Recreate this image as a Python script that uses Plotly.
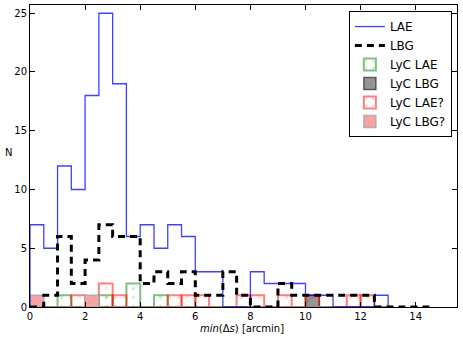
import numpy as np
import plotly.graph_objects as go

bin_width = 0.5
# counts per 0.5-arcmin bin, starting at 0
lae_counts = [7, 5, 12, 10, 18, 25, 19, 6, 7, 5, 7, 6, 3, 3, 0, 0, 3, 2, 2, 2, 1, 1, 0, 0, 0, 1]
lbg_counts = [0, 1, 6, 2, 4, 7, 6, 6, 2, 3, 2, 3, 1, 1, 3, 1, 0, 0, 2, 1, 1, 1, 1, 1, 1, 0, 0, 0, 0]
lyc_lae_counts = [0, 0, 1, 0, 0, 1, 0, 2, 0, 1, 0, 0, 0, 0, 0, 0, 0, 0, 0, 0, 0, 0, 0, 0, 0, 0]
lyc_lbg_counts = [0, 0, 0, 0, 0, 0, 0, 0, 0, 0, 0, 0, 0, 0, 0, 0, 0, 0, 0, 0, 1, 0, 0, 0, 0, 0]
lyc_lae_q_counts = [0, 0, 0, 1, 0, 2, 1, 0, 0, 0, 1, 1, 1, 0, 0, 1, 1, 0, 1, 0, 1, 0, 0, 1, 1, 0]
lyc_lbg_q_counts = [1, 0, 0, 0, 1, 0, 0, 0, 0, 0, 0, 0, 0, 0, 0, 0, 0, 0, 0, 0, 0, 0, 0, 0, 0, 0]

x_ticks = [0, 2, 4, 6, 8, 10, 12, 14]
y_ticks = [0, 5, 10, 15, 20, 25]

FONT = "DejaVu Sans"


def step_xy(counts):
    edges = np.arange(len(counts) + 1) * bin_width
    xs = [edges[0]] + list(edges[:-1]) + [edges[-1]]
    ys = [0] + list(counts) + [0]
    return xs, ys


def centers(counts):
    return (np.arange(len(counts)) + 0.5) * bin_width


fig = go.Figure()

# LyC bars (patterned)
fig.add_trace(go.Bar(
    x=centers(lyc_lae_counts), y=lyc_lae_counts, width=bin_width, name="LyC LAE",
    marker=dict(color="rgba(0,0,0,0)",
                line=dict(color="rgba(0,128,0,0.5)", width=2),
                pattern=dict(shape=".", fgcolor="rgba(0,128,0,0.3)", bgcolor="rgba(0,0,0,0)",
                             size=9, solidity=0.12)),
))
fig.add_trace(go.Bar(
    x=centers(lyc_lbg_counts), y=lyc_lbg_counts, width=bin_width, name="LyC LBG",
    marker=dict(color="rgba(0,0,0,0)",
                line=dict(color="rgba(60,60,60,0.8)", width=1.5),
                pattern=dict(shape="/", fgcolor="rgba(90,90,90,0.7)", bgcolor="rgba(150,150,150,1)",
                             size=14, solidity=0.08)),
))
fig.add_trace(go.Bar(
    x=centers(lyc_lae_q_counts), y=lyc_lae_q_counts, width=bin_width, name="LyC LAE?",
    marker=dict(color="rgba(0,0,0,0)",
                line=dict(color="rgba(255,0,0,0.5)", width=2),
                pattern=dict(shape=".", fgcolor="rgba(255,0,0,0.25)", bgcolor="rgba(0,0,0,0)",
                             size=9, solidity=0.12)),
))
fig.add_trace(go.Bar(
    x=centers(lyc_lbg_q_counts), y=lyc_lbg_q_counts, width=bin_width, name="LyC LBG?",
    marker=dict(color="rgba(0,0,0,0)",
                line=dict(color="rgba(170,170,170,0.9)", width=1.5),
                pattern=dict(shape="/", fgcolor="rgba(240,130,130,0.6)", bgcolor="rgba(245,165,165,1)",
                             size=14, solidity=0.08)),
))

# step histograms
lx, ly = step_xy(lae_counts)
fig.add_trace(go.Scatter(x=lx, y=ly, mode="lines", line_shape="hv", name="LAE",
                         line=dict(color="rgba(0,0,255,0.75)", width=1.3)))
bx, by = step_xy(lbg_counts)
fig.add_trace(go.Scatter(x=bx, y=by, mode="lines", line_shape="hv", name="LBG",
                         line=dict(color="black", width=3, dash="7px,5px")))

fig.update_layout(
    width=463, height=341,
    margin=dict(l=30, r=6, t=5, b=34, autoexpand=False),
    paper_bgcolor="white", plot_bgcolor="white",
    barmode="overlay",
    font=dict(family=FONT, size=10, color="black"),
    showlegend=True,
    legend=dict(
        x=0.988, y=0.98, xanchor="right", yanchor="top",
        bordercolor="black", borderwidth=1, bgcolor="white",
        font=dict(family=FONT, size=12, color="black"),
        traceorder="normal",
        itemwidth=30, tracegroupgap=0,
    ),
)
fig.update_xaxes(
    range=[0, 15.5], tickvals=x_ticks, ticktext=[str(v) for v in x_ticks],
    ticks="inside", ticklen=5, tickcolor="black", showline=True, linecolor="black", linewidth=1,
    mirror="ticks", showgrid=False, zeroline=False, automargin=False,
    tickfont=dict(family=FONT, size=10, color="black"),
)
fig.update_yaxes(
    range=[0, 25.7], tickvals=y_ticks, ticktext=[str(v) for v in y_ticks],
    ticks="inside", ticklen=5, tickcolor="black", showline=True, linecolor="black", linewidth=1,
    mirror="ticks", showgrid=False, zeroline=False, automargin=False,
    tickfont=dict(family=FONT, size=10, color="black"),
)
fig.add_annotation(text="<i>min</i>(Δ<i>s</i>) [arcmin]", xref="paper", yref="paper",
                   x=0.497, y=-0.072, xanchor="center", yanchor="middle", showarrow=False,
                   font=dict(family=FONT, size=10, color="black"))
fig.add_annotation(text="N", xref="paper", yref="paper", x=-0.05, y=0.51,
                   xanchor="center", yanchor="middle", showarrow=False,
                   font=dict(family=FONT, size=10, color="black"))

# reorder legend to match reference
order = ["LAE", "LBG", "LyC LAE", "LyC LBG", "LyC LAE?", "LyC LBG?"]
for tr in fig.data:
    tr.legendrank = order.index(tr.name)

fig.write_html("out.html",
               config={"displayModeBar": False},
               post_script="document.body.style.margin='0';document.body.style.overflow='hidden';")
